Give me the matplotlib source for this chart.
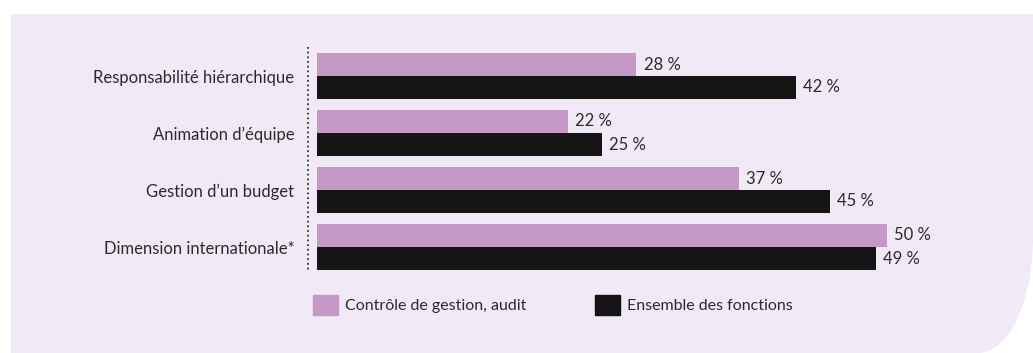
import numpy as np
import matplotlib
matplotlib.use("Agg")
import matplotlib.pyplot as plt
from matplotlib.path import Path
from matplotlib.patches import PathPatch, Patch

# Données
categories = ["Responsabilité hiérarchique", "Animation d’équipe",
              "Gestion d’un budget", "Dimension internationale*"]
controle = [28, 22, 37, 50]
ensemble = [42, 25, 45, 49]
series_names = ["Contrôle de gestion, audit", "Ensemble des fonctions"]

pink = "#C598C6"
black = "#151515"
bg = "#F2E9F6"
txt = "#2b2b2b"

plt.rcParams["font.family"] = ["Lato", "DejaVu Sans"]
fs = 12

W, H = 1033, 353
fig = plt.figure(figsize=(W / 100, H / 100), dpi=100)

# Fond violet clair avec coin inférieur droit arrondi
rx, ry = 55, 115
t = np.linspace(0, np.pi / 2, 40)
arc = [(W - rx + rx * np.cos(a), ry - ry * np.sin(a)) for a in t]
pts = [(11, H - 14), (W, H - 14)] + arc + [(11, 0), (11, H - 14)]
pts = [(x / W, y / H) for x, y in pts]
codes = [Path.MOVETO] + [Path.LINETO] * (len(pts) - 2) + [Path.CLOSEPOLY]
fig.patches.append(PathPatch(Path(pts, codes), transform=fig.transFigure,
                             facecolor=bg, edgecolor="none", zorder=-1))

# Axes : 11.4 px par point de pourcentage, pas de 57 px entre groupes
px = 11.4
pitch = 57
top, bottom = 40, 283
ax = fig.add_axes([317 / W, 1 - bottom / H, 60 * px / W, (bottom - top) / H])
ax.set_zorder(2)
ax.set_xlim(0, 60)
g0 = 76
ax.set_ylim((bottom - g0) / pitch, (top - g0) / pitch)
ax.axis("off")

y = np.arange(len(categories))
h = 23 / pitch
ax.barh(y - h / 2, controle, height=h, color=pink, label=series_names[0])
ax.barh(y + h / 2, ensemble, height=h, color=black, label=series_names[1])

for i in range(len(categories)):
    ax.text(controle[i] + 0.65, y[i] - h / 2, f"{controle[i]} %", va="center",
            ha="left", fontsize=fs, color=txt)
    ax.text(ensemble[i] + 0.65, y[i] + h / 2, f"{ensemble[i]} %", va="center",
            ha="left", fontsize=fs, color=txt)
    ax.text(-2.0, y[i] + 0.03, categories[i], va="center", ha="right",
            fontsize=fs, color=txt)

# Ligne verticale en pointillés
ax.plot([-9 / px, -9 / px], [(47 - g0) / pitch, (272 - g0) / pitch],
        color="#333333", lw=1.3, ls=(0, (1, 1.6)), clip_on=False)

handles = [Patch(color=pink), Patch(color=black)]
leg = fig.legend(handles, series_names, loc="center left",
                 bbox_to_anchor=(313 / W, 1 - 305 / H), ncol=2, frameon=False,
                 fontsize=11.5, handlelength=1.55, handleheight=1.5,
                 handletextpad=0.45, columnspacing=4.3, borderpad=0,
                 borderaxespad=0, labelcolor=txt)
leg.set_zorder(2)

fig.savefig("out.png", dpi=100, facecolor="white")
